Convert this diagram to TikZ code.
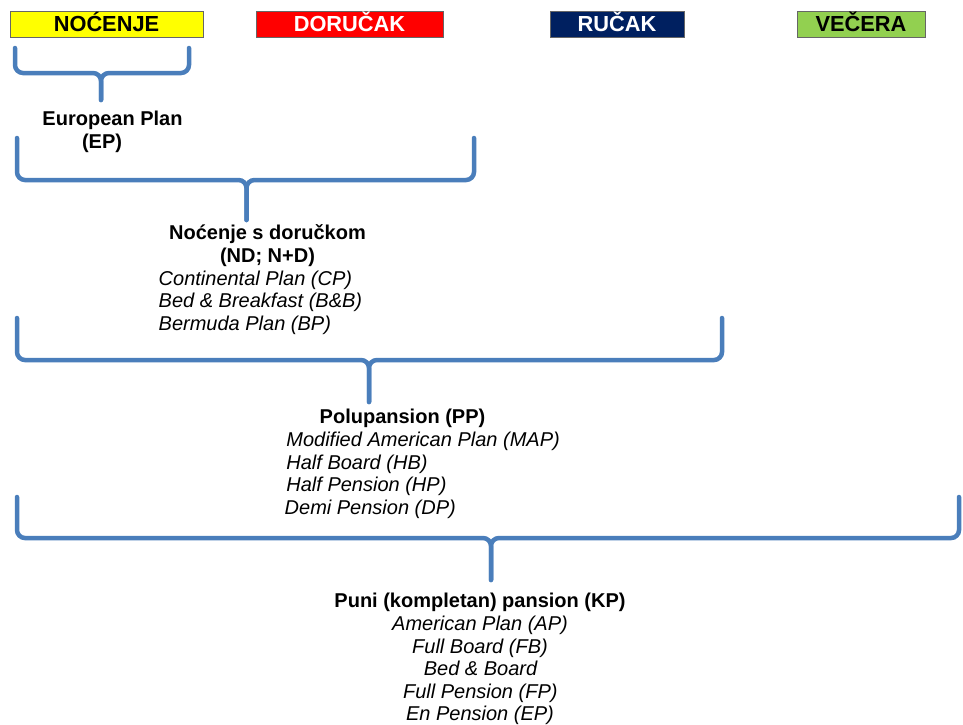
\documentclass[tikz,border=0pt]{standalone}
\usepackage{fontspec}
\setmainfont{Liberation Sans}
\definecolor{braceblue}{HTML}{4A7EBB}
\definecolor{hdryellow}{HTML}{FFFF00}
\definecolor{hdrred}{HTML}{FF0000}
\definecolor{hdrnavy}{HTML}{002060}
\definecolor{hdrgreen}{HTML}{92D050}
\newcommand\mybrace[6]{% left, right, top, bar y, tip x, tip bottom
  \coordinate (bl) at (#1,#3);
  \coordinate (br) at (#2,#3);
  \coordinate (bt) at (#5,#6);
  \draw[brc] (bl) -- (#1,#4) -- (#5,#4) -- (bt);
  \draw[brc] (br) -- (#2,#4) -- (#5,#4) -- (bt);
}
\begin{document}
\begin{tikzpicture}[x=1pt,y=-1pt,
  hdr/.style={draw=black!60, line width=0.8pt, minimum height=26pt, inner sep=0pt,
    text height=15.9pt, text depth=0pt, font=\fontsize{21.8}{24}\selectfont\bfseries},
  bl/.style={inner sep=0pt, font=\fontsize{20}{23}\selectfont\bfseries},
  itl/.style={inner sep=0pt, font=\fontsize{20}{23}\selectfont\itshape},
  brc/.style={draw=braceblue, line width=4.5pt, rounded corners=8pt, line cap=round}]
\useasboundingbox (0,0) rectangle (963,724);

% header boxes
\node[hdr, fill=hdryellow, minimum width=193pt] (noc) at (106.5,24) {NOĆENJE};
\node[hdr, fill=hdrred, text=white, minimum width=187pt] (dor) at (349.5,24) {DORUČAK};
\node[hdr, fill=hdrnavy, text=white, minimum width=134pt] (ruc) at (617,24) {RUČAK};
\node[hdr, fill=hdrgreen, minimum width=128pt] (vec) at (861,24) {VEČERA};

% braces
\mybrace{15}{189}{48}{73}{101}{100}
\mybrace{17}{474}{138}{180}{246.5}{220}
\mybrace{17}{722}{318}{360}{369}{402}
\mybrace{17}{959}{497}{538}{491}{580}

% European Plan
\node[bl, anchor=base] (ep1) at (112.5,125) {European Plan};
\node[bl, anchor=base] (ep2) at (102,148) {(EP)};

% Nocenje s doruckom
\node[bl, anchor=base] (nd1) at (267.5,239.5) {Noćenje s doručkom};
\node[bl, anchor=base] (nd2) at (267.5,262.5) {(ND; N+D)};
\node[itl, anchor=base west] (nd3) at (158.5,285) {Continental Plan (CP)};
\node[itl, anchor=base west] (nd4) at (158.5,307.7) {Bed \& Breakfast (B\&B)};
\node[itl, anchor=base west] (nd5) at (158.5,330.4) {Bermuda Plan (BP)};

% Polupansion
\node[bl, anchor=base west] (pp1) at (319.5,423.3) {Polupansion (PP)};
\node[itl, anchor=base west] (pp2) at (286.2,446.7) {Modified American Plan (MAP)};
\node[itl, anchor=base west] (pp3) at (286.2,469.3) {Half Board (HB)};
\node[itl, anchor=base west] (pp4) at (286.2,491.9) {Half Pension (HP)};
\node[itl, anchor=base west] (pp5) at (284.5,514.8) {Demi Pension (DP)};

% Puni pansion
\node[bl, anchor=base] (kp1) at (480,607.3) {Puni (kompletan) pansion (KP)};
\node[itl, anchor=base] (kp2) at (480,630) {American Plan (AP)};
\node[itl, anchor=base] (kp3) at (480,653) {Full Board (FB)};
\node[itl, anchor=base] (kp4) at (480.5,675.5) {Bed \& Board};
\node[itl, anchor=base] (kp5) at (480.3,698.3) {Full Pension (FP)};
\node[itl, anchor=base] (kp6) at (480,720.5) {En Pension (EP)};
\end{tikzpicture}
\end{document}
